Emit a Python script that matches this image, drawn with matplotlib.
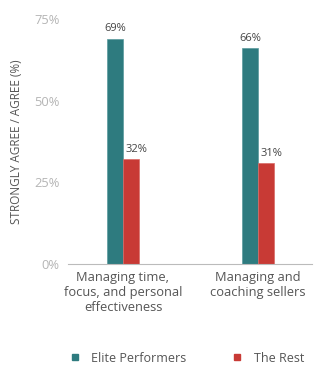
import matplotlib.pyplot as plt
from matplotlib.lines import Line2D

# Data
categories = ["Managing time,\nfocus, and personal\neffectiveness", "Managing and\ncoaching sellers"]
elite = [69, 66]
rest = [32, 31]
series_names = ["Elite Performers", "The Rest"]
yticks = [0, 25, 50, 75]

teal = "#2e7b7f"
red = "#c83a35"

plt.rcParams['font.family'] = ['Open Sans', 'DejaVu Sans']

fig = plt.figure(figsize=(3.24, 3.79), dpi=100)
ax = fig.add_axes([0.21, 0.3034, 0.753, 0.6466])

x = list(range(len(categories)))
w = 0.118
b1 = ax.bar([i - w / 2 for i in x], elite, width=w, color=teal, edgecolor="#5a9a9d", linewidth=0.5)
b2 = ax.bar([i + w / 2 for i in x], rest, width=w, color=red, edgecolor="#d86a66", linewidth=0.5)

for bars, vals, dx in [(b1, elite, 0), (b2, rest, 4)]:
    for bar, v in zip(bars, vals):
        ax.annotate(f"{v}%", (bar.get_x() + bar.get_width() / 2, v),
                    xytext=(dx, 3), textcoords="offset points",
                    ha="center", va="bottom", fontsize=8, color="#444444")

ax.set_xlim(-0.407, 1.4)
ax.set_ylim(0, 75)
ax.set_yticks(yticks)
ax.set_yticklabels([f"{t}%" for t in yticks], color="#b5b5b5", fontsize=9.3)
ax.set_xticks(x)
ax.set_xticklabels(categories, fontsize=9.3, color="#555555", linespacing=1.2)
ax.tick_params(axis="both", length=0)
ax.tick_params(axis="y", pad=6)
ax.tick_params(axis="x", pad=5)
for s in ["top", "right", "left"]:
    ax.spines[s].set_visible(False)
ax.spines["bottom"].set_color("#bbbbbb")
ax.spines["bottom"].set_linewidth(0.8)

ax.set_ylabel("STRONGLY AGREE / AGREE (%)", fontsize=8.5, color="#555555", labelpad=8)

handles = [Line2D([], [], marker="s", linestyle="", color=teal, markersize=5),
           Line2D([], [], marker="s", linestyle="", color=red, markersize=5)]
fig.legend(handles, series_names, loc="center", bbox_to_anchor=(0.575, 0.055), ncol=2,
           frameon=False, fontsize=9, labelcolor="#555555", handletextpad=0.8,
           columnspacing=3.6, handlelength=1.0)

fig.savefig("out.png", dpi=100)
